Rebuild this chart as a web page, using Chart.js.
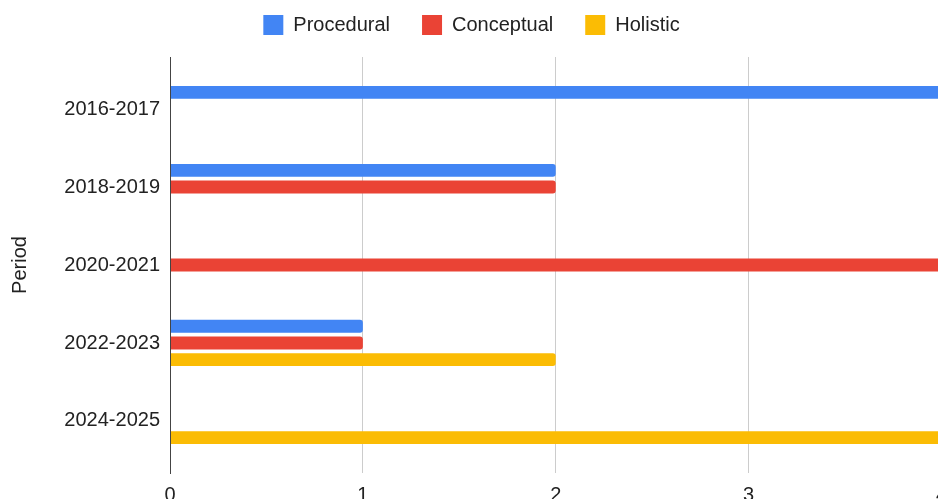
<!DOCTYPE html>
<html>
<head>
<meta charset="utf-8">
<script src="https://cdn.jsdelivr.net/npm/chart.js@4/dist/chart.umd.min.js"></script>
<style>
  html, body { margin: 0; padding: 0; overflow: hidden; background: #ffffff; width: 938px; height: 499px; }
  #wrap { position: absolute; left: 0; top: 0; width: 957px; height: 517px; }
  canvas { display: block; }
</style>
</head>
<body>
<div id="wrap"><canvas id="c" width="957" height="517" style="width:957px;height:517px"></canvas></div>
<script>
// ---- data ----
const periods = ['2016-2017', '2018-2019', '2020-2021', '2022-2023', '2024-2025'];
const seriesNames = ['Procedural', 'Conceptual', 'Holistic'];
const procedural = [4, 2, 0, 1, 0];
const conceptual = [0, 2, 4, 1, 0];
const holistic   = [0, 0, 0, 2, 4];
const xTickValues = [0, 1, 2, 3, 4];
const axisTitleY = 'Period';

// ---- styles ----
const colors = ['#4285F4', '#EA4335', '#FBBC04'];
Chart.defaults.font.family = '"Liberation Sans", Arial, Helvetica, sans-serif';
Chart.defaults.font.size = 20;
Chart.defaults.color = '#222222';

const toPoints = arr => arr.map((v, i) => ({ x: v, y: i }));
const seriesData = [procedural, conceptual, holistic];

const datasets = seriesNames.map((name, k) => ({
  label: name,
  data: toPoints(seriesData[k]),
  backgroundColor: colors[k],
  borderWidth: 0,
  borderRadius: 3,
  categoryPercentage: 0.64,
  barPercentage: 0.78
}));

// legend spacing: extra space below legend row
const legendExtra = {
  id: 'legendExtra',
  beforeLayout(chart) {
    const lg = chart.legend;
    if (lg && !lg._extraPatched) {
      const orig = lg.fit;
      lg.fit = function () { orig.call(this); this.height += 12; };
      lg._extraPatched = true;
    }
  }
};

new Chart(document.getElementById('c'), {
  type: 'bar',
  data: { datasets },
  plugins: [legendExtra],
  options: {
    indexAxis: 'y',
    responsive: false,
    animation: false,
    layout: { padding: { top: -17, left: -14, right: 0, bottom: 0 } },
    plugins: {
      legend: {
        position: 'top',
        align: 'center',
        labels: { boxWidth: 20, boxHeight: 20, padding: 32, color: '#222222', font: { size: 20 } }
      },
      tooltip: { enabled: false }
    },
    scales: {
      x: {
        type: 'linear',
        min: 0,
        max: 4,
        offset: false,
        afterBuildTicks: s => { s.ticks = xTickValues.map(v => ({ value: v })); },
        ticks: { padding: 10, color: '#222222', font: { size: 20 } },
        grid: { color: '#cccccc', lineWidth: 1, drawTicks: false, offset: false },
        border: { display: false }
      },
      y: {
        type: 'linear',
        reverse: true,
        offset: false,
        min: -0.667,
        max: 4.667,
        afterBuildTicks: s => { s.ticks = periods.map((_, i) => ({ value: i })); },
        afterFit: s => { s.width = 184; },
        ticks: { padding: 10, color: '#222222', font: { size: 20 }, callback: v => periods[v] },
        grid: { display: false, drawTicks: false, offset: false },
        border: { display: true, color: '#444444', width: 1, z: 1 },
        title: { display: true, text: axisTitleY, color: '#222222', font: { size: 20 }, padding: { top: 22, bottom: 0 } }
      }
    }
  }
});
</script>
</body>
</html>
